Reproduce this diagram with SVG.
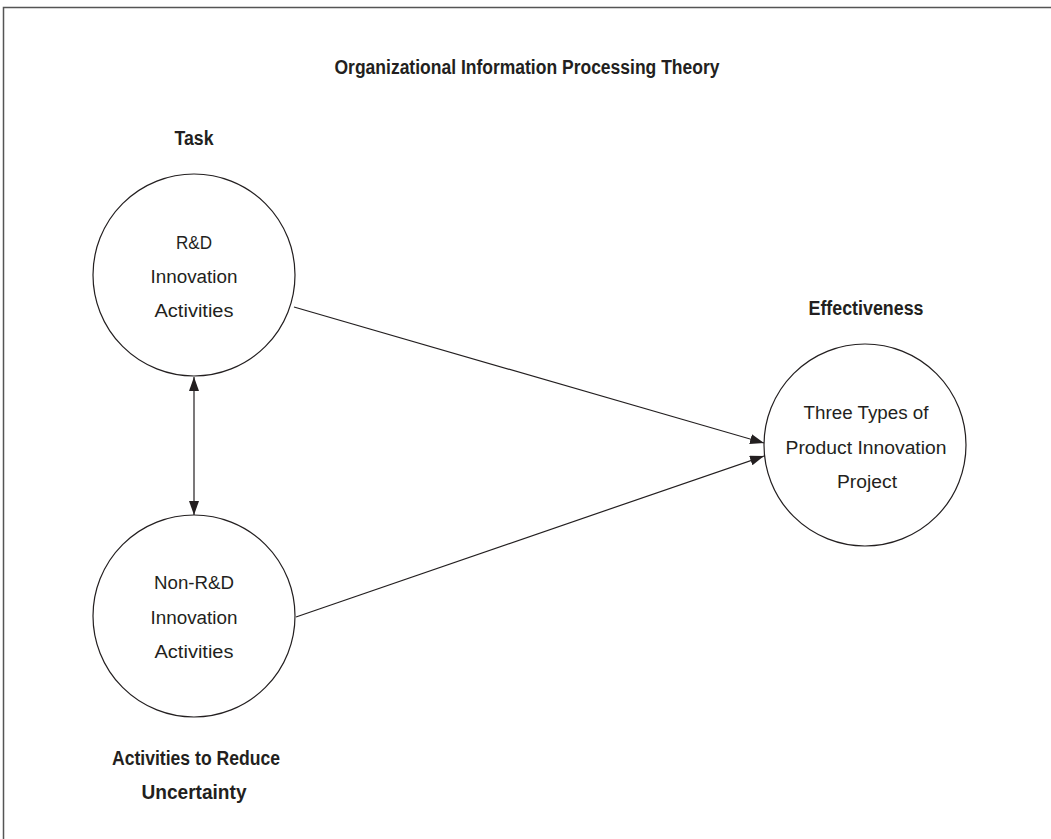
<svg xmlns="http://www.w3.org/2000/svg" width="1051" height="839" viewBox="0 0 1051 839">
<style>
.t{font-family:"Liberation Sans",Arial,sans-serif;fill:#231f20;text-anchor:middle}
.b{font-weight:bold;font-size:20px}
.n{font-size:18px}
.c{fill:#fff;stroke:#231f20;stroke-width:1.2}
.l{stroke:#231f20;stroke-width:1.2;fill:none}
</style>
<defs>
<marker id="ah" viewBox="0 0 14 10" refX="14" refY="5" markerWidth="14" markerHeight="10" markerUnits="userSpaceOnUse" orient="auto-start-reverse">
<path d="M0,0 L14,5 L0,10 z" fill="#231f20"/>
</marker>
</defs>
<rect x="0" y="0" width="1051" height="839" fill="#fff"/>
<rect x="3.5" y="7.5" width="1060" height="850" fill="none" stroke="#555" stroke-width="1.5"/>
<text class="t b" x="527" y="74" textLength="385" lengthAdjust="spacingAndGlyphs">Organizational Information Processing Theory</text>
<g id="connectors">
<line class="l" x1="194" y1="377" x2="194" y2="515" marker-start="url(#ah)" marker-end="url(#ah)"/>
<line class="l" x1="294" y1="307" x2="764" y2="443" marker-end="url(#ah)"/>
<line class="l" x1="296" y1="617" x2="764" y2="456" marker-end="url(#ah)"/>
</g>
<g id="task">
<text class="t b" x="194" y="145" textLength="39" lengthAdjust="spacingAndGlyphs">Task</text>
<circle class="c" cx="194" cy="275" r="101"/>
<text class="t n" x="194" y="249" textLength="36" lengthAdjust="spacingAndGlyphs">R&amp;D</text>
<text class="t n" x="194" y="283" textLength="87" lengthAdjust="spacingAndGlyphs">Innovation</text>
<text class="t n" x="194" y="317" textLength="79" lengthAdjust="spacingAndGlyphs">Activities</text>
</g>
<g id="nonrd">
<circle class="c" cx="194" cy="616" r="101"/>
<text class="t n" x="194" y="589" textLength="80" lengthAdjust="spacingAndGlyphs">Non-R&amp;D</text>
<text class="t n" x="194" y="624" textLength="87" lengthAdjust="spacingAndGlyphs">Innovation</text>
<text class="t n" x="194" y="658" textLength="79" lengthAdjust="spacingAndGlyphs">Activities</text>
<text class="t b" x="196" y="765" textLength="168" lengthAdjust="spacingAndGlyphs">Activities to Reduce</text>
<text class="t b" x="194" y="799" textLength="105" lengthAdjust="spacingAndGlyphs">Uncertainty</text>
</g>
<g id="effectiveness">
<text class="t b" x="866" y="315" textLength="115" lengthAdjust="spacingAndGlyphs">Effectiveness</text>
<circle class="c" cx="865" cy="445" r="101"/>
<text class="t n" x="866" y="419" textLength="125" lengthAdjust="spacingAndGlyphs">Three Types of</text>
<text class="t n" x="866" y="454" textLength="161" lengthAdjust="spacingAndGlyphs">Product Innovation</text>
<text class="t n" x="867" y="488" textLength="60" lengthAdjust="spacingAndGlyphs">Project</text>
</g>
</svg>
